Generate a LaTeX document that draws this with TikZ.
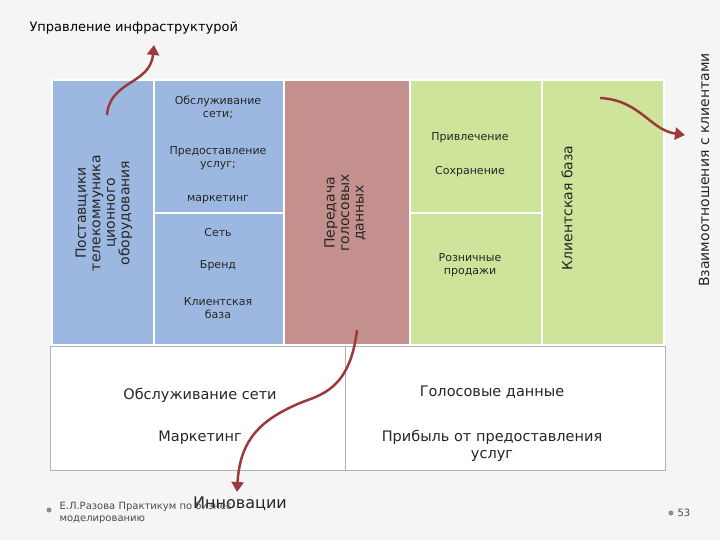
\documentclass[tikz,border=0pt]{standalone}
\usepackage{fontspec}
\setmainfont{DejaVu Sans}
\usetikzlibrary{arrows.meta}
\definecolor{blu}{HTML}{9DB8E0}
\definecolor{ros}{HTML}{C4908E}
\definecolor{grn}{HTML}{CDE49A}
\definecolor{arr}{HTML}{9A3A3C}
\tikzset{col/.style={draw=white,line width=1.5pt},
 t/.style={font=\fontsize{11}{13}\selectfont,align=center,text=black!85,inner sep=1pt},
 rt/.style={rotate=90,font=\fontsize{14}{14.5}\selectfont,align=center,text=black!85,inner sep=1pt},
 big/.style={font=\fontsize{14.5}{17}\selectfont,align=center,text=black!85},
 curv/.style={draw=arr,line width=2.5pt,-{Triangle[length=10pt,width=12pt]}}}
\begin{document}
\begin{tikzpicture}[x=1pt,y=-1pt]
\useasboundingbox (0,0) rectangle (720,540);
\fill[black!4] (0,0) rectangle (720,540);
\node[font=\fontsize{13}{15}\selectfont,anchor=west] (title) at (26,28) {Управление инфраструктурой};
\path[col,fill=blu] (52,80) rectangle (154,345);
\path[col,fill=blu] (154,80) rectangle (284,213);
\path[col,fill=blu] (154,213) rectangle (284,345);
\path[col,fill=ros] (284,80) rectangle (410,345);
\path[col,fill=grn] (410,80) rectangle (542,213);
\path[col,fill=grn] (410,213) rectangle (542,345);
\path[col,fill=grn] (542,80) rectangle (664,345);
\node[rt] (sup) at (104,213) {Поставщики\\телекоммуника\\ционного\\оборудования};
\node[t] (n1) at (218,107) {Обслуживание\\сети;};
\node[t] (n2) at (218,158) {Предоставление\\услуг;};
\node[t] (n3) at (218,200) {маркетинг};
\node[t] (n4) at (218,232) {Сеть};
\node[t] (n5) at (218,266) {Бренд};
\node[t] (n6) at (218,308) {Клиентская\\база};
\node[rt] (voice) at (345,213) {Передача\\голосовых\\данных};
\node[t] (g1) at (470,138) {Привлечение};
\node[t] (g2) at (470,172) {Сохранение};
\node[t] (g3) at (470,265) {Розничные\\продажи};
\node[rt] (cb) at (567,208) {Клиентская база};
\node[rt] (rel) at (704,170) {Взаимоотношения с клиентами};
\draw[black!30,fill=white] (50,346) rectangle (665,470);
\draw[black!30] (345,346) -- (345,470);
\node[big] (b1) at (200,395) {Обслуживание сети};
\node[big] (b2) at (200,438) {Маркетинг};
\node[big] (b3) at (492,392) {Голосовые данные};
\node[big] (b4) at (492,446) {Прибыль от предоставления\\услуг};
\node[big,font=\fontsize{16}{18}\selectfont] (inn) at (240,504) {Инновации};
\node[font=\fontsize{10}{12}\selectfont,align=left,anchor=west,text=black!70] (auth) at (56,513) {Е.Л.Разова Практикум по бизнес-\\моделированию};
\fill[black!45] (49,510) circle (2.5);
\fill[black!45] (671,513) circle (2.5);
\node[font=\fontsize{10}{12}\selectfont,anchor=west,text=black!70] (pg) at (674,513) {53};
\coordinate (a1s) at (107,115);
\coordinate (a1e) at (154,45);
\draw[curv] (a1s) .. controls (110,80) and (150,85) .. (a1e);
\coordinate (a2s) at (600,98);
\coordinate (a2e) at (685,135);
\draw[curv] (a2s) .. controls (640,100) and (650,130) .. (a2e);
\coordinate (a3s) at (357,330);
\coordinate (a3e) at (237,492);
\draw[curv] (a3s) .. controls (350,390) and (320,395) .. (300,403) .. controls (260,420) and (240,440) .. (a3e);
\end{tikzpicture}
\end{document}
